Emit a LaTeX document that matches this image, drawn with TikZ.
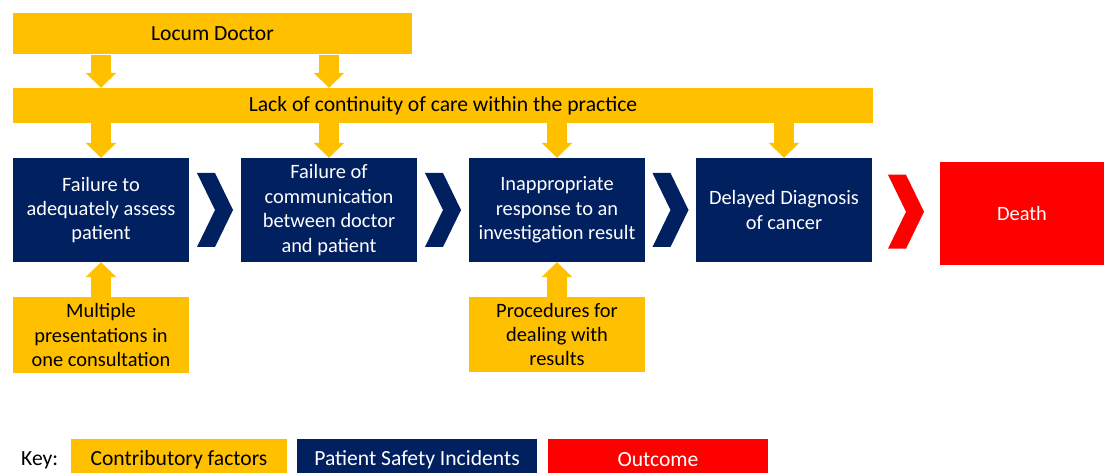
\documentclass[tikz,border=0pt]{standalone}
\usepackage{fontspec}
\setmainfont{Carlito}
\usetikzlibrary{arrows.meta,calc}

\definecolor{factorbg}{HTML}{FFC000}
\definecolor{incidentbg}{HTML}{002060}
\definecolor{outcomebg}{HTML}{FF0000}

% chevron between two boxes
\newcommand{\chevron}[3]{%
  \fill[#3] ($(#1.east)!0.5!(#2.west)$) ++(-18,-37) -- ++(18,0) -- ++(18,37)
    -- ++(-18,37) -- ++(-18,0) -- ++(18,-37) -- cycle;}

\tikzset{
  box/.style={inner sep=0pt, align=center, font=\fontsize{20.4}{24.4}\selectfont},
  bigtext/.style={font=\fontsize{21.6}{26}\selectfont},
  factor/.style={box, fill=factorbg, text=black},
  incident/.style={box, fill=incidentbg, text=white, minimum width=176pt, minimum height=104pt},
  outcome/.style={box, fill=outcomebg, text=white},
  factorarrow/.style={draw=factorbg, line width=20pt, -{Triangle[width=30pt,length=15pt]}}
}

\begin{document}
\begin{tikzpicture}[x=1pt,y=-1pt]
    \useasboundingbox (0,0) rectangle (1104,473);
    \clip (0,0) rectangle (1104,473);

    % contributory factors (top)
    \node[factor, bigtext, minimum width=399pt, minimum height=41pt] (locum) at (212.5,34) {Locum Doctor};
    \node[factor, bigtext, minimum width=860pt, minimum height=35pt] (lack) at (443,105.5) {Lack of continuity of care within the practice};

    % patient safety incidents
    \node[incident] (assess) at (101,210) {Failure to\\adequately assess\\patient};
    \node[incident] (communication) at (329,210) {Failure of\\communication\\between doctor\\and patient};
    \node[incident] (response) at (557,210) {Inappropriate\\response to an\\investigation result};
    \node[incident] (diagnosis) at (784,210) {Delayed Diagnosis\\of cancer};

    % outcome
    \node[outcome, minimum width=164pt, minimum height=103pt] (death) at (1022,213.5) {Death};

    % contributory factors (bottom)
    \node[factor, minimum width=176pt, minimum height=75pt] (multiple) at (101,335) {Multiple\\presentations in\\one consultation};
    \node[factor, minimum width=176pt, minimum height=75pt] (procedures) at (557,334.5) {Procedures for\\dealing with\\results};

    % arrows
    \draw[factorarrow] (locum.south -| assess) -- (lack.north -| assess);
    \draw[factorarrow] (locum.south -| communication) -- (lack.north -| communication);
    \draw[factorarrow] (lack.south -| assess) -- (assess.north);
    \draw[factorarrow] (lack.south -| communication) -- (communication.north);
    \draw[factorarrow] (lack.south -| response) -- (response.north);
    \draw[factorarrow] (lack.south -| diagnosis) -- (diagnosis.north);
    \draw[factorarrow] (multiple.north) -- (assess.south);
    \draw[factorarrow] (procedures.north) -- (response.south);

    % chevrons
    \chevron{assess}{communication}{incidentbg}
    \chevron{communication}{response}{incidentbg}
    \chevron{response}{diagnosis}{incidentbg}
    \chevron{diagnosis}{death}{outcomebg}

    % key
    \node[box, bigtext, anchor=west] (keylabel) at (21,460) {Key:};
    \node[factor, bigtext, minimum width=216pt, minimum height=42pt] (keyfactor) at (179,460) {Contributory factors};
    \node[incident, bigtext, minimum width=240pt, minimum height=42pt] (keyincident) at (417,460) {Patient Safety Incidents};
    \node[outcome, bigtext, minimum width=220pt, minimum height=42pt] (keyoutcome) at (658,460) {Outcome};
\end{tikzpicture}
\end{document}
